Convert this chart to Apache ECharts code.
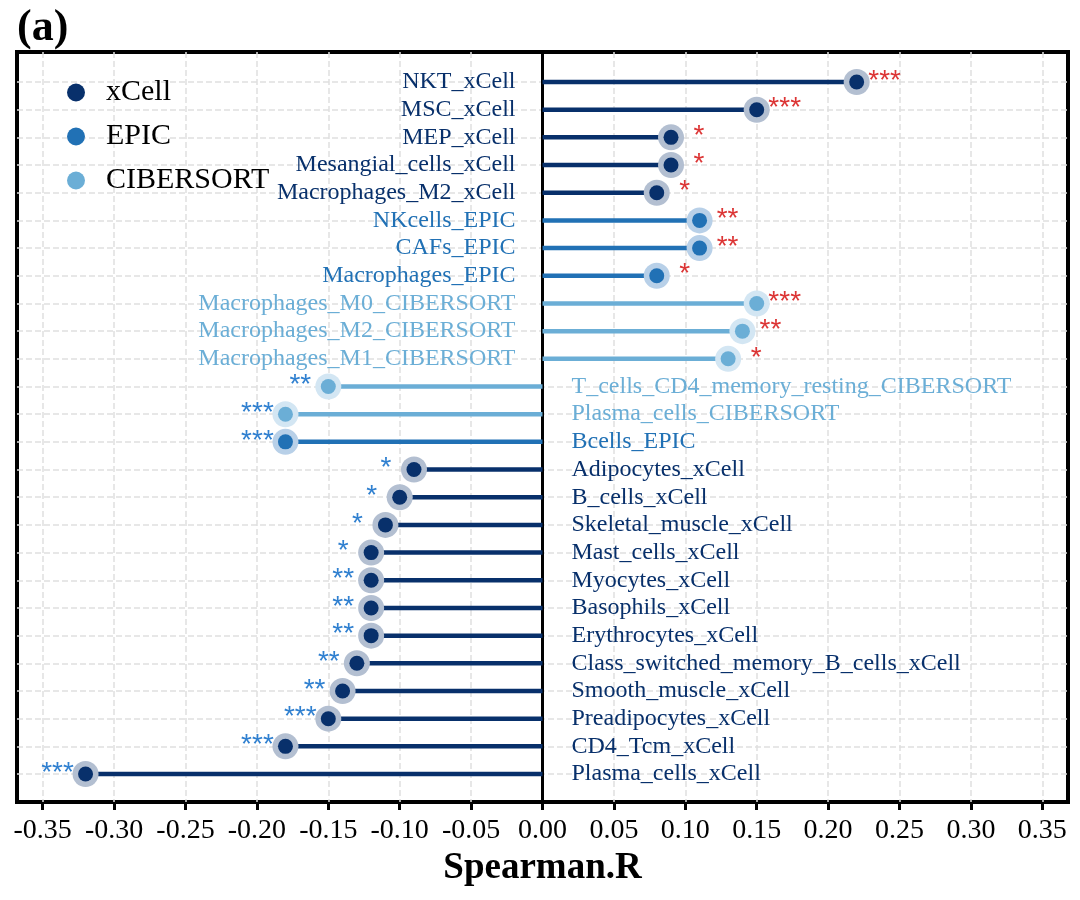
<!DOCTYPE html>
<html lang="en">
<head>
    <meta charset="UTF-8">
    <title>Spearman.R lollipop</title>
    <script src="https://cdn.jsdelivr.net/npm/echarts@6/dist/echarts.min.js"></script>
    <style>
        body { margin: 0; background: #fff; }
        #main { width: 1080px; height: 900px; }
    </style>
</head>
<body>
    <div id="main"></div>
    <script>
        // rows, top to bottom
        const cellTypes = [
            "NKT_xCell", "MSC_xCell", "MEP_xCell", "Mesangial_cells_xCell", "Macrophages_M2_xCell",
            "NKcells_EPIC", "CAFs_EPIC", "Macrophages_EPIC",
            "Macrophages_M0_CIBERSORT", "Macrophages_M2_CIBERSORT", "Macrophages_M1_CIBERSORT",
            "T_cells_CD4_memory_resting_CIBERSORT", "Plasma_cells_CIBERSORT", "Bcells_EPIC",
            "Adipocytes_xCell", "B_cells_xCell", "Skeletal_muscle_xCell", "Mast_cells_xCell",
            "Myocytes_xCell", "Basophils_xCell", "Erythrocytes_xCell",
            "Class_switched_memory_B_cells_xCell", "Smooth_muscle_xCell", "Preadipocytes_xCell",
            "CD4_Tcm_xCell", "Plasma_cells_xCell"
        ]
        const methodOf = [
            "xCell", "xCell", "xCell", "xCell", "xCell",
            "EPIC", "EPIC", "EPIC",
            "CIBERSORT", "CIBERSORT", "CIBERSORT",
            "CIBERSORT", "CIBERSORT", "EPIC",
            "xCell", "xCell", "xCell", "xCell",
            "xCell", "xCell", "xCell",
            "xCell", "xCell", "xCell",
            "xCell", "xCell"
        ]
        const rho = [
            0.22, 0.15, 0.09, 0.09, 0.08,
            0.11, 0.11, 0.08,
            0.15, 0.14, 0.13,
            -0.15, -0.18, -0.18,
            -0.09, -0.10, -0.11, -0.12,
            -0.12, -0.12, -0.12,
            -0.13, -0.14, -0.15,
            -0.18, -0.32
        ]
        const signif = [
            "***", "***", "*", "*", "*",
            "**", "**", "*",
            "***", "**", "*",
            "**", "***", "***",
            "*", "*", "*", "*",
            "**", "**", "**",
            "**", "**", "***",
            "***", "***"
        ]
        const methods = ["xCell", "EPIC", "CIBERSORT"]
        const xTicks = [-0.35, -0.30, -0.25, -0.20, -0.15, -0.10, -0.05, 0, 0.05, 0.10, 0.15, 0.20, 0.25, 0.30, 0.35]
        const rowIdx = cellTypes.map((c, i) => i)

        const colors = { xCell: "#08306b", EPIC: "#2171b5", CIBERSORT: "#6baed6" }
        const halos = { xCell: "#b3bfd1", EPIC: "#b8d0e8", CIBERSORT: "#d3e6f3" }
        const serif = "'Times New Roman', 'Liberation Serif', serif"

        const mychart = echarts.init(document.getElementById("main"))

        const series = methods.map((m) => {
            const rows = rowIdx.filter((i) => methodOf[i] === m)
            return {
                name: m,
                type: "custom",
                itemStyle: { color: colors[m] },
                data: rows.map((i) => [rho[i], i]),
                renderItem: (params, api) => {
                    const r = rows[params.dataIndex]
                    const v = api.value(0)
                    const p0 = api.coord([0, api.value(1)])
                    const p1 = api.coord([v, api.value(1)])
                    const pos = v > 0
                    return {
                        type: "group",
                        children: [
                            {
                                type: "line",
                                shape: { x1: p0[0], y1: p0[1], x2: p1[0], y2: p1[1] },
                                style: { stroke: colors[m], lineWidth: 4.5 }
                            },
                            {
                                type: "circle",
                                shape: { cx: p1[0], cy: p1[1], r: 13 },
                                style: { fill: halos[m] }
                            },
                            {
                                type: "circle",
                                shape: { cx: p1[0], cy: p1[1], r: 7.5 },
                                style: { fill: colors[m] }
                            },
                            {
                                type: "text",
                                x: pos ? p0[0] - 27 : p0[0] + 29,
                                y: p0[1],
                                style: {
                                    text: cellTypes[r],
                                    fill: colors[m],
                                    font: "24px " + serif,
                                    align: pos ? "right" : "left",
                                    verticalAlign: "middle"
                                }
                            },
                            {
                                // significance stars
                                type: "text",
                                x: pos ? p1[0] + 28 : p1[0] - 28,
                                y: p1[1] - 1,
                                style: {
                                    text: signif[r],
                                    fill: pos ? "#dc3535" : "#3080d0",
                                    font: "28px 'Liberation Sans', Arial, sans-serif",
                                    align: "center",
                                    verticalAlign: "middle"
                                }
                            }
                        ]
                    }
                }
            }
        })

        const option = {
            animation: false,
            title: {
                text: "(a)",
                left: 12,
                top: 2,
                textStyle: { fontFamily: serif, fontSize: 44, fontWeight: "bold", color: "#000" }
            },
            legend: {
                data: methods,
                orient: "vertical",
                left: 62,
                top: 72,
                icon: "circle",
                itemWidth: 18,
                itemHeight: 18,
                itemGap: 13,
                textStyle: {
                    fontFamily: serif,
                    fontSize: 30,
                    color: "#000",
                    lineHeight: 31,
                    padding: [0, 0, 0, 16]
                }
            },
            grid: {
                left: 17,
                right: 12,
                top: 52,
                bottom: 98,
                show: true,
                borderColor: "#000",
                borderWidth: 4,
                backgroundColor: "transparent",
                outerBoundsMode: "none"
            },
            xAxis: {
                type: "value",
                min: -0.368,
                max: 0.368,
                name: "Spearman.R",
                nameLocation: "middle",
                nameGap: 48,
                nameTextStyle: { fontFamily: serif, fontSize: 37, fontWeight: "bold", color: "#000" },
                axisLine: { show: false, onZero: false },
                axisTick: {
                    show: true,
                    inside: false,
                    length: 8,
                    customValues: xTicks,
                    lineStyle: { color: "#000", width: 3 }
                },
                axisLabel: {
                    customValues: xTicks,
                    margin: 15,
                    fontFamily: serif,
                    fontSize: 28,
                    color: "#000",
                    formatter: (v) => v.toFixed(2)
                },
                splitLine: {
                    show: true,
                    lineStyle: { color: "#e0e0e0", type: "dashed", width: 1.5 }
                }
            },
            yAxis: {
                type: "value",
                inverse: true,
                min: -1.084,
                max: 26.01,
                axisLine: { show: true, onZero: true, lineStyle: { color: "#000", width: 3 } },
                axisTick: { show: false, customValues: rowIdx },
                axisLabel: { show: false, customValues: rowIdx },
                splitLine: {
                    show: true,
                    lineStyle: { color: "#e0e0e0", type: "dashed", width: 1.5 }
                }
            },
            series: series
        }
        mychart.setOption(option)
    </script>
</body>
</html>
